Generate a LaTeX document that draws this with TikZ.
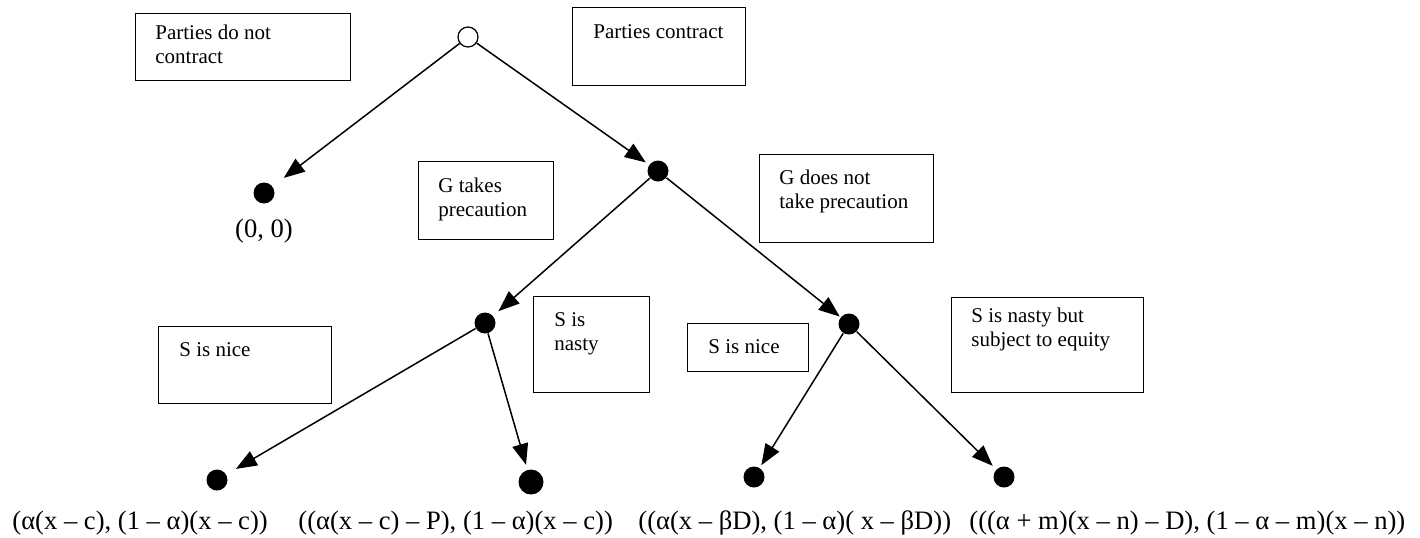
\documentclass[tikz,border=0pt]{standalone}
\usepackage{fontspec}
\setmainfont{Liberation Serif}
\usetikzlibrary{arrows.meta}
\begin{document}
\begin{tikzpicture}[x=0.5pt,y=-0.5pt,
  box/.style={draw, line width=0.7pt, inner sep=0pt, anchor=north west},
  boxtxt/.style={font=\fontsize{10.5}{12}\selectfont, align=left, inner sep=0pt, anchor=base west},
  pay/.style={font=\fontsize{13.3}{16}\selectfont, inner sep=0pt, anchor=base west},
  dot/.style={circle, fill=black, inner sep=0pt, minimum size=10.5pt},
  odot/.style={circle, draw, fill=white, line width=0.6pt, inner sep=0pt, minimum size=10pt},
  move/.style={line width=0.75pt, -{Triangle[length=10.5pt,width=8pt]}}
]
\useasboundingbox (0,0) rectangle (1420,537);
% boxes
\node[box, minimum width=107.5pt, minimum height=33.5pt] (b1) at (135,13) {};
\node[box, minimum width=86.5pt, minimum height=39pt] (b2) at (572,7) {};
\node[box, minimum width=67.5pt, minimum height=39pt] (b3) at (418,161) {};
\node[box, minimum width=87pt, minimum height=44pt] (b4) at (759,154) {};
\node[box, minimum width=86.5pt, minimum height=38.5pt] (b5) at (158,326) {};
\node[box, minimum width=58pt, minimum height=48pt] (b6) at (533,296) {};
\node[box, minimum width=60.5pt, minimum height=24pt] (b7) at (687,323) {};
\node[box, minimum width=96pt, minimum height=47.5pt] (b8) at (951,297) {};
% box texts (anchor = baseline of the last line)
\node[boxtxt] (t1) at (155,63) {Parties do not\\contract};
\node[boxtxt] (t2) at (593,38) {Parties contract};
\node[boxtxt] (t3) at (438,216) {G takes\\precaution};
\node[boxtxt] (t4) at (779,208) {G does not\\take precaution};
\node[boxtxt] (t5) at (179,356) {S is nice};
\node[boxtxt] (t6) at (554,350) {S is\\nasty};
\node[boxtxt] (t7) at (708,353) {S is nice};
\node[boxtxt] (t8) at (971,346) {S is nasty but\\subject to equity};
% decision nodes
\node[odot] (root) at (468,37) {};
\node[dot] (nc) at (264,193) {};
\node[dot] (c) at (658,171) {};
\node[dot] (s1) at (485,323) {};
\node[dot] (s2) at (849,324) {};
\node[dot] (l1) at (217,480) {};
\node[dot, minimum size=12.5pt] (l2) at (531,482) {};
\node[dot] (l3) at (754,477) {};
\node[dot] (l4) at (1004,477) {};
% moves
\draw[move, shorten >=7pt] (root) -- (nc);
\draw[move, shorten >=2pt] (root) -- (c);
\draw[move, shorten >=3.5pt] (c) -- (s1);
\draw[move, shorten >=0.5pt] (c) -- (s2);
\draw[move, shorten >=5.5pt] (s1) -- (l1);
\draw[move, shorten >=2.5pt] (s1) -- (l2);
\draw[move, shorten >=1.5pt] (s2) -- (l3);
\draw[move, shorten >=2.5pt] (s2) -- (l4);
% payoffs
\node[pay, anchor=base] (p0) at (264,237) {(0, 0)};
\node[pay] (p1) at (12,529) {(α(x – c), (1 – α)(x – c))};
\node[pay] (p2) at (298,529) {((α(x – c) – P), (1 – α)(x – c))};
\node[pay] (p3) at (638,529) {((α(x – βD), (1 – α)( x – βD))};
\node[pay] (p4) at (969,529) {(((α + m)(x – n) – D), (1 – α – m)(x – n))};
\end{tikzpicture}
\end{document}
